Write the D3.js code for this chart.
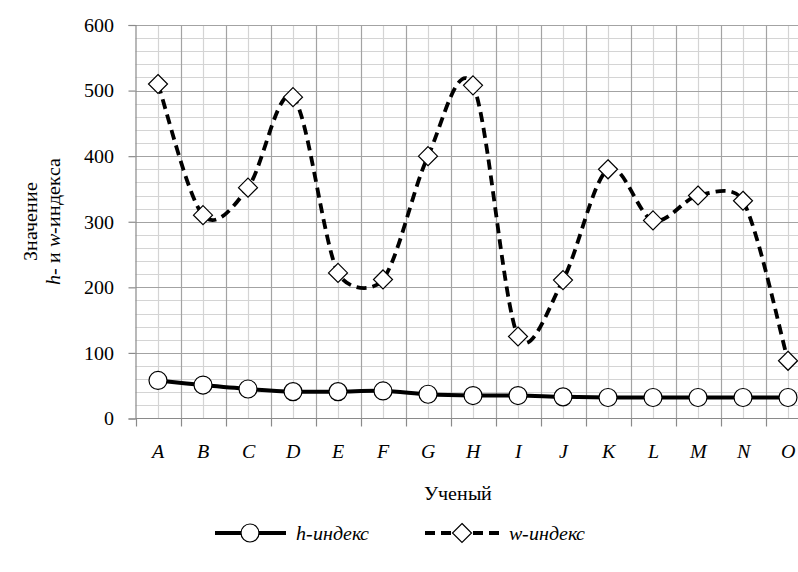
<!DOCTYPE html>
<html>
<head>
<meta charset="utf-8">
<script src="https://cdn.jsdelivr.net/npm/d3@7/dist/d3.min.js"></script>
<style>
  @font-face { font-family: "ChartSerif"; font-style: normal; font-weight: 400;
    src: local("Liberation Serif"), local("LiberationSerif"), local("Times New Roman"); }
  @font-face { font-family: "ChartSerif"; font-style: italic; font-weight: 400;
    src: local("Liberation Serif Italic"), local("LiberationSerif-Italic"), local("Times New Roman Italic"); }
  body { margin: 0; background: #fff; }
  #chart text { font-family: "ChartSerif", "Liberation Serif", "Times New Roman", serif; }
</style>
</head>
<body>
<svg id="chart" width="798" height="572"></svg>
<script>
// Scientists and their indices
const categories = ["A","B","C","D","E","F","G","H","I","J","K","L","M","N","O"];
const hIndex = [58, 51, 45, 41, 41, 42, 37, 35, 35, 33, 32, 32, 32, 32, 32];
const wIndex = [510, 310, 352, 490, 222, 212, 400, 508, 125, 211, 380, 302, 340, 332, 88];
const yTicks = [0, 100, 200, 300, 400, 500, 600];
const seriesNames = ["h-индекс", "w-индекс"];

const svg = d3.select("#chart");
const plot = { left: 135.5, top: 25, bottom: 418.5, band: 45 };
plot.right = plot.left + plot.band * categories.length;

const x = d3.scaleBand().domain(categories).range([plot.left, plot.right]).padding(0);
const cx = d => x(d) + x.bandwidth() / 2;
const y = d3.scaleLinear().domain([0, 600]).range([plot.bottom, plot.top]);

// Smoothing curve: Catmull-Rom style Bezier segments whose handles are
// kept within a fraction of the adjacent segment length.
function SmoothCurve(context) { this._context = context; }
SmoothCurve.prototype = {
  areaStart() { this._line = 0; },
  areaEnd() { this._line = NaN; },
  lineStart() { this._pts = []; },
  point(px, py) { this._pts.push([+px, +py]); },
  lineEnd() {
    const p = this._pts, n = p.length, c = this._context;
    if (!n) return;
    c.moveTo(p[0][0], p[0][1]);
    if (n === 1) return;
    const lim = 0.4;
    const handle = (i, dir) => {
      const a = p[Math.max(0, i - 1)], b = p[Math.min(n - 1, i + 1)];
      let vx = (b[0] - a[0]) / 6, vy = (b[1] - a[1]) / 6;
      const nb = p[i + dir];
      const seg = Math.hypot(nb[0] - p[i][0], nb[1] - p[i][1]);
      const len = Math.hypot(vx, vy);
      if (len > lim * seg && len > 0) { const s = lim * seg / len; vx *= s; vy *= s; }
      return [p[i][0] + dir * vx, p[i][1] + dir * vy];
    };
    for (let i = 0; i < n - 1; i++) {
      const c1 = handle(i, 1), c2 = handle(i + 1, -1);
      c.bezierCurveTo(c1[0], c1[1], c2[0], c2[1], p[i + 1][0], p[i + 1][1]);
    }
  }
};
const curveSmooth = ctx => new SmoothCurve(ctx);

const g = svg.append("g");
const MINOR = "#d4d4d4", MAJOR = "#a3a3a3", AXIS = "#8a8a8a";

// Minor horizontal grid every 20
const minorY = d3.range(0, 601, 20).filter(v => v % 100 !== 0);
g.selectAll("line.hminor").data(minorY).join("line")
  .attr("x1", plot.left).attr("x2", plot.right)
  .attr("y1", d => Math.round(y(d)) + 0.5).attr("y2", d => Math.round(y(d)) + 0.5)
  .attr("stroke", MINOR).attr("stroke-width", 1.2);

// Minor vertical grid through category centres
g.selectAll("line.vminor").data(categories).join("line")
  .attr("x1", d => Math.round(cx(d)) + 0.5).attr("x2", d => Math.round(cx(d)) + 0.5)
  .attr("y1", plot.top).attr("y2", plot.bottom)
  .attr("stroke", MINOR).attr("stroke-width", 1.2);

// Major horizontal grid
g.selectAll("line.hmajor").data(yTicks.filter(v => v > 0)).join("line")
  .attr("x1", plot.left).attr("x2", plot.right)
  .attr("y1", d => Math.round(y(d)) + 0.5).attr("y2", d => Math.round(y(d)) + 0.5)
  .attr("stroke", MAJOR).attr("stroke-width", 1.2);

// Major vertical grid at category boundaries
const bounds = categories.map(c => x(c)).slice(1).concat([plot.right]);
g.selectAll("line.vmajor").data(bounds).join("line")
  .attr("x1", d => Math.round(d) + 0.5).attr("x2", d => Math.round(d) + 0.5)
  .attr("y1", plot.top).attr("y2", plot.bottom)
  .attr("stroke", MAJOR).attr("stroke-width", 1.2);

// Y axis
const yAxis = d3.axisLeft(y).tickValues(yTicks).tickSize(7).tickPadding(15);
const ya = svg.append("g").attr("transform", `translate(${plot.left},0)`).call(yAxis);
ya.attr("font-family", null).attr("font-size", null);
ya.select(".domain").attr("stroke", AXIS).attr("stroke-width", 1.2);
ya.selectAll(".tick line").attr("stroke", AXIS).attr("stroke-width", 1.2);
ya.selectAll(".tick text").attr("font-size", 20).attr("fill", "#000");

// X axis: ticks at category boundaries, labels at centres
const xa = svg.append("g");
xa.append("line").attr("x1", plot.left).attr("x2", plot.right)
  .attr("y1", plot.bottom).attr("y2", plot.bottom)
  .attr("stroke", AXIS).attr("stroke-width", 1.2);
xa.selectAll("line.xt").data(categories.map(c => x(c)).concat([plot.right])).join("line")
  .attr("x1", d => Math.round(d) + 0.5).attr("x2", d => Math.round(d) + 0.5)
  .attr("y1", plot.bottom).attr("y2", plot.bottom + 8)
  .attr("stroke", AXIS).attr("stroke-width", 1.2);
xa.selectAll("text").data(categories).join("text")
  .attr("x", d => cx(d)).attr("y", 458)
  .attr("text-anchor", "middle").attr("font-size", 20).attr("font-style", "italic")
  .text(d => d);

// Axis titles
svg.append("text").attr("x", 458).attr("y", 500).attr("text-anchor", "middle")
  .attr("font-size", 20).text("Ученый");
const yt = svg.append("text").attr("transform", `translate(0,${(plot.top + plot.bottom) / 2}) rotate(-90)`)
  .attr("text-anchor", "middle").attr("font-size", 20);
yt.append("tspan").attr("x", 0).attr("y", 37).text("Значение");
const l2 = yt.append("tspan").attr("x", 0).attr("y", 60);
l2.append("tspan").attr("font-style", "italic").text("h");
l2.append("tspan").text("- и ");
l2.append("tspan").attr("font-style", "italic").text("w");
l2.append("tspan").text("-индекса");

// Series lines (smoothed)
const line = d3.line().x((d, i) => cx(categories[i])).y(d => y(d)).curve(curveSmooth);

svg.append("path").datum(hIndex).attr("d", line)
  .attr("fill", "none").attr("stroke", "#000").attr("stroke-width", 4);
svg.append("path").datum(wIndex).attr("d", line)
  .attr("fill", "none").attr("stroke", "#000").attr("stroke-width", 3.8)
  .attr("stroke-dasharray", "10,6");

// Markers
const diamond = s => `M0,${-s}L${s},0L0,${s}L${-s},0Z`;
svg.selectAll("circle.h").data(hIndex).join("circle")
  .attr("cx", (d, i) => cx(categories[i])).attr("cy", d => y(d)).attr("r", 9)
  .attr("fill", "#fff").attr("stroke", "#000").attr("stroke-width", 1.2);
svg.selectAll("path.w").data(wIndex).join("path")
  .attr("transform", (d, i) => `translate(${cx(categories[i])},${y(d)})`)
  .attr("d", diamond(9.5))
  .attr("fill", "#fff").attr("stroke", "#000").attr("stroke-width", 1.2);

// Legend
const ly = 533;
const lg = svg.append("g");
lg.append("line").attr("x1", 215).attr("x2", 286).attr("y1", ly).attr("y2", ly)
  .attr("stroke", "#000").attr("stroke-width", 4);
lg.append("circle").attr("cx", 250).attr("cy", ly).attr("r", 9)
  .attr("fill", "#fff").attr("stroke", "#000").attr("stroke-width", 1.2);
lg.append("text").attr("x", 296).attr("y", ly + 7).attr("font-size", 20).attr("font-style", "italic")
  .text(seriesNames[0]);
lg.append("line").attr("x1", 425).attr("x2", 500).attr("y1", ly).attr("y2", ly)
  .attr("stroke", "#000").attr("stroke-width", 3.8).attr("stroke-dasharray", "10,6");
lg.append("path").attr("transform", `translate(462,${ly})`).attr("d", diamond(9.5))
  .attr("fill", "#fff").attr("stroke", "#000").attr("stroke-width", 1.2);
lg.append("text").attr("x", 509).attr("y", ly + 7).attr("font-size", 20).attr("font-style", "italic")
  .text(seriesNames[1]);
</script>
</body>
</html>
